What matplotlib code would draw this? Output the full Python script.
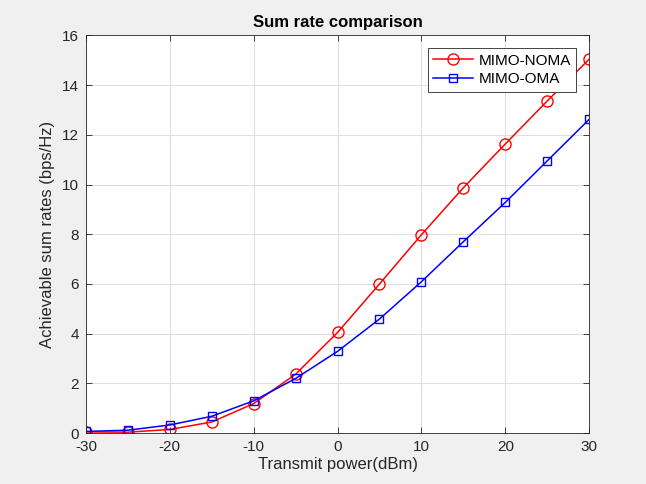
import matplotlib
matplotlib.use("Agg")
import matplotlib.pyplot as plt

power_dbm = [-30, -25, -20, -15, -10, -5, 0, 5, 10, 15, 20, 25, 30]
noma_rate = [0.05, 0.04, 0.15, 0.45, 1.19, 2.37, 4.05, 6.0, 7.98, 9.87, 11.63, 13.36, 15.04]
oma_rate = [0.07, 0.12, 0.33, 0.68, 1.30, 2.20, 3.29, 4.59, 6.09, 7.70, 9.28, 10.95, 12.62]
xticks = [-30, -20, -10, 0, 10, 20, 30]
yticks = [0, 2, 4, 6, 8, 10, 12, 14, 16]

plt.rcParams['font.family'] = ['Liberation Sans', 'DejaVu Sans']
plt.rcParams['axes.unicode_minus'] = False
fig = plt.figure(figsize=(6.46, 4.84), dpi=100, facecolor='#f0f0f0')
ax = fig.add_axes([0.133, 0.105, 0.779, 0.822])
ax.set_facecolor('white')

ax.plot(power_dbm, noma_rate, color='#ff0000', marker='o', markersize=8,
        markerfacecolor='none', markeredgewidth=1.0, linewidth=1.1, label='MIMO-NOMA')
ax.plot(power_dbm, oma_rate, color='#0000ff', marker='s', markersize=6,
        markerfacecolor='none', markeredgewidth=1.0, linewidth=1.1, label='MIMO-OMA')

ax.set_xlim(-30, 30)
ax.set_ylim(0, 16)
ax.set_xticks(xticks)
ax.set_yticks(yticks)
ax.grid(True, color='#dfdfdf', linewidth=0.8)
ax.set_axisbelow(True)
ax.tick_params(direction='in', top=True, right=True, length=4, width=0.6,
               colors='#262626', labelsize=11, labelcolor='#262626', pad=5)
for s in ax.spines.values():
    s.set_color('#262626')
    s.set_linewidth(0.6)

ax.set_xlabel('Transmit power(dBm)', fontsize=12, color='#262626', labelpad=2)
ax.set_ylabel('Achievable sum rates (bps/Hz)', fontsize=12, color='#262626', labelpad=5)
ax.set_title('Sum rate comparison', fontsize=12, fontweight='bold', color='#000000', pad=6)

leg = ax.legend(loc='upper right', bbox_to_anchor=(0.974, 0.967), fontsize=11,
                frameon=True, fancybox=False, edgecolor='#262626', framealpha=1,
                handlelength=2.6, borderpad=0.35, labelspacing=0.3, handletextpad=0.35,
                borderaxespad=0)
leg.get_frame().set_linewidth(0.6)

fig.savefig('out.png', dpi=100, facecolor=fig.get_facecolor())
